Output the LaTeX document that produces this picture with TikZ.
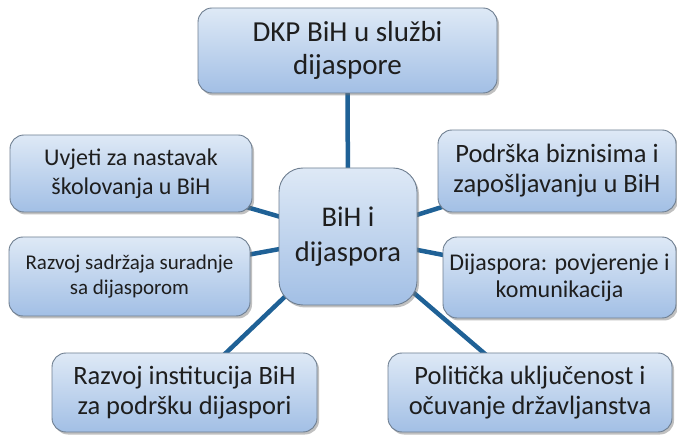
\documentclass[tikz,border=0pt]{standalone}
\usepackage{fontspec}
\setmainfont{Carlito}
\usetikzlibrary{shadows,shadings,backgrounds}
\definecolor{boxtop}{HTML}{DEE9F6}
\definecolor{boxbot}{HTML}{A2BFE5}
\definecolor{boxline}{HTML}{6E7E90}
\definecolor{linkblue}{HTML}{1F6196}
\definecolor{txt}{HTML}{1E1E1E}
\tikzset{
  topicbox/.style={rectangle, rounded corners=14pt, draw=boxline, line width=0.9pt,
    top color=boxtop, bottom color=boxbot, align=center, text=txt, inner sep=2pt,
    drop shadow={shadow xshift=2pt, shadow yshift=-2.5pt, fill=black!55, opacity=0.45}},
  fsz/.style 2 args={font=\fontsize{#1}{#2}\selectfont},
  link/.style={draw=linkblue, line width=4.5pt}
}
\begin{document}
\begin{tikzpicture}[x=1pt,y=1pt]
\useasboundingbox (0,0) rectangle (677,-435);
\node[topicbox, fsz={29}{33}, minimum width=299pt, minimum height=85pt] (top) at (347.5,-50.5)
  {DKP BiH u službi\\dijaspore};
\node[topicbox, fsz={24}{28.5}, minimum width=242pt, minimum height=77pt] (uv) at (131,-173.5)
  {Uvjeti za nastavak\\školovanja u BiH};
\node[topicbox, fsz={21}{25}, minimum width=241pt, minimum height=79pt] (rs) at (129.5,-276.5)
  {Razvoj sadržaja suradnje\\sa dijasporom};
\node[topicbox, fsz={28.5}{35}, rounded corners=24pt, minimum width=138pt, minimum height=137pt] (c) at (348,-236.5)
  {BiH i\\dijaspora};
\node[topicbox, fsz={26.5}{30}, minimum width=238pt, minimum height=82pt] (pb) at (557,-171)
  {Podrška biznisima i\\zapošljavanju u BiH};
\node[topicbox, fsz={24}{27}, minimum width=233pt, minimum height=81pt] (dp) at (559.5,-277.5)
  {Dijaspora: povjerenje i\\komunikacija};
\node[topicbox, fsz={26.5}{30}, minimum width=265pt, minimum height=79pt] (ri) at (184.5,-392.5)
  {Razvoj institucija BiH\\za podršku dijaspori};
\node[topicbox, fsz={26.5}{30}, minimum width=284pt, minimum height=79pt] (pu) at (530,-392.5)
  {Politička uključenost i\\očuvanje državljanstva};
\begin{scope}[on background layer]
  \draw[link] (c.center) -- (top.center);
  \draw[link] (c.center) -- (uv.center);
  \draw[link] (c.center) -- (rs.center);
  \draw[link] (c.center) -- (pb.center);
  \draw[link] (c.center) -- (dp.center);
  \draw[link] (c.center) -- (ri.center);
  \draw[link] (c.center) -- (pu.center);
\end{scope}
\end{tikzpicture}
\end{document}
